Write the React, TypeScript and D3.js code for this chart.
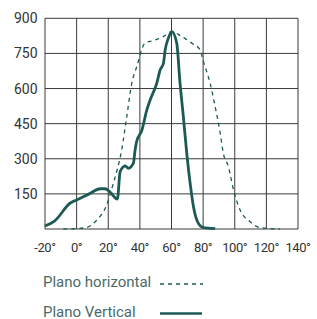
import React from "react";
import * as d3 from "d3";

const W = 317;
const H = 319;
const COLOR = "#1d5a55";

const xTicks = [-20, 0, 20, 40, 60, 80, 100, 120, 140];
const yTicks = [150, 300, 450, 600, 750, 900];

// Plano Vertical (solid)
const verticalAngles = [-20, -14, -4, 0, 8, 15, 18, 21, 25.8, 27.5, 29.6, 30.8, 32.7, 35.9, 37, 38, 41.2, 44.4, 46.5, 50.7, 52.8, 54.9, 56, 58, 60.2, 63.3, 65.4, 67.5, 69.7, 71.8, 73.9, 77, 80.2, 87.6];
const verticalValues = [13, 34, 111, 124, 150, 172, 172, 159, 128, 245, 266, 270, 259, 281, 338, 375, 420, 509, 551, 623, 679, 708, 765, 815, 843, 794, 623, 480, 320, 195, 95, 24, 6, 2];

// Plano horizontal (dashed)
const horizontalAngles = [-8.4, 5.3, 12.7, 19, 23.2, 28.5, 31.7, 34.9, 38, 43.3, 48.5, 54.9, 60.2, 66.5, 72.8, 78.1, 80.2, 84.4, 87.6, 90.8, 92.8, 96, 99.2, 103.4, 109.7, 116, 128.7];
const horizontalValues = [0, 5, 38, 103, 195, 338, 480, 623, 693, 794, 805, 822, 843, 822, 794, 765, 715, 623, 523, 409, 323, 266, 167, 81, 31, 6, 0];

const legendLabels = ["Plano horizontal", "Plano Vertical"];

const FONT = "Roboto, 'Liberation Sans', sans-serif";

export default function App() {
  const x = d3.scaleLinear().domain([-20, 140]).range([45, 298]);
  const y = d3.scaleLinear().domain([0, 900]).range([229, 18.3]);

  const line = d3
    .line<[number, number]>()
    .x((d) => x(d[0]))
    .y((d) => y(d[1]))
    .curve(d3.curveMonotoneX);

  const vertical = verticalAngles.map((a, i) => [a, verticalValues[i]] as [number, number]);
  const horizontal = horizontalAngles.map((a, i) => [a, horizontalValues[i]] as [number, number]);

  return (
    <div style={{ position: "fixed", left: 0, top: 0 }}>
      <svg width={W} height={H} style={{ display: "block", background: "#fff" }}>
        {/* grid */}
        <g stroke="#3a3a3a" strokeWidth={1}>
          {xTicks.map((t) => (
            <line key={"x" + t} x1={x(t)} x2={x(t)} y1={y(0)} y2={y(900)} />
          ))}
          {[0, ...yTicks].map((t) => (
            <line key={"y" + t} x1={x(-20)} x2={x(140)} y1={y(t)} y2={y(t)} />
          ))}
        </g>

        {/* y labels */}
        {yTicks.map((t) => (
          <text
            key={"yl" + t}
            x={37.5}
            y={y(t)}
            dy="0.36em"
            textAnchor="end"
            fontFamily={FONT}
            fontSize={14}
            fill="#333"
          >
            {t}
          </text>
        ))}

        {/* x labels */}
        {xTicks.map((t) => (
          <text
            key={"xl" + t}
            x={x(t)}
            y={252}
            textAnchor="middle"
            fontFamily={FONT}
            fontSize={13}
            letterSpacing={-0.4}
            fill="#333"
          >
            {t + "°"}
          </text>
        ))}

        <path d={line(horizontal) || ""} fill="none" stroke={COLOR} strokeWidth={1.3} strokeDasharray="4,4" />
        <path d={line(vertical) || ""} fill="none" stroke={COLOR} strokeWidth={2.8} strokeLinejoin="round" />

        {/* legend */}
        <text x={43} y={287} fontFamily={FONT} fontSize={15} fill="#4a6b6a">
          {legendLabels[0]}
        </text>
        <line x1={160} x2={203} y1={284} y2={284} stroke={COLOR} strokeWidth={1.3} strokeDasharray="4,4" />
        <text x={43} y={316.5} fontFamily={FONT} fontSize={15} fill="#4a6b6a">
          {legendLabels[1]}
        </text>
        <line x1={160} x2={202} y1={313.5} y2={313.5} stroke={COLOR} strokeWidth={2.6} />
      </svg>
    </div>
  );
}
